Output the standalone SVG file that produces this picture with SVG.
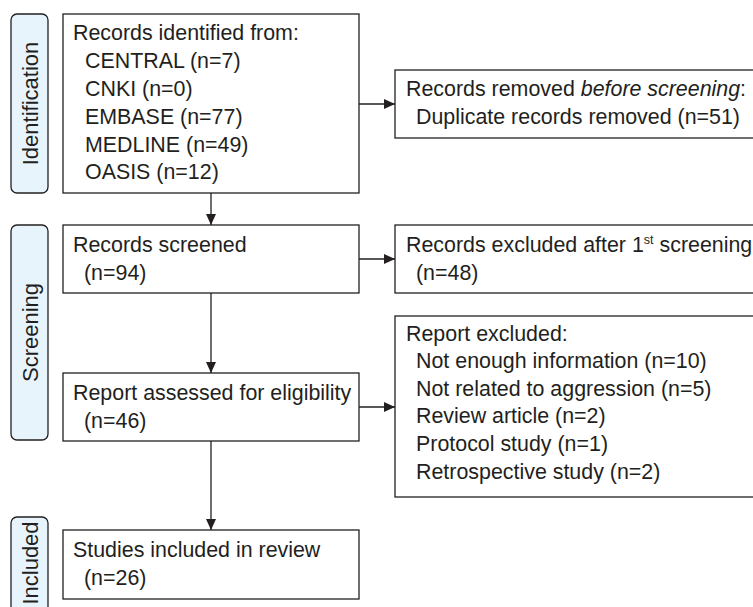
<svg xmlns="http://www.w3.org/2000/svg" width="753" height="607" viewBox="0 0 753 607">
<style>
text{font-family:"Liberation Sans",Arial,sans-serif;font-size:21.4px;fill:#231f20}
.box{fill:#fff;stroke:#231f20;stroke-width:1.3}
.lab{fill:#e8f4fc;stroke:#231f20;stroke-width:1.3}
.lt{font-size:22px;text-anchor:middle}
.con{stroke:#231f20;stroke-width:1.3;fill:none}
.sup{font-size:12.5px}
</style>
<defs>
<marker id="ah" markerWidth="11" markerHeight="10" refX="11" refY="5" orient="auto" markerUnits="userSpaceOnUse">
<path d="M0,0 L11,5 L0,10 Z" fill="#231f20"/>
</marker>
</defs>
<rect width="753" height="607" fill="#fff"/>
<g id="label-identification">
<rect class="lab" x="11" y="14" width="37" height="179" rx="6"/>
<text class="lt" transform="translate(37.5,103.5) rotate(-90)">Identification</text>
</g>
<g id="label-screening">
<rect class="lab" x="11" y="225" width="37" height="215" rx="6"/>
<text class="lt" transform="translate(37.5,332.5) rotate(-90)">Screening</text>
</g>
<g id="label-included">
<rect class="lab" x="11" y="517" width="37" height="110" rx="6"/>
<text class="lt" transform="translate(37.5,563) rotate(-90)">Included</text>
</g>
<g id="connectors">
<line class="con" x1="359" y1="104" x2="395" y2="104" marker-end="url(#ah)"/>
<line class="con" x1="211" y1="193" x2="211" y2="225" marker-end="url(#ah)"/>
<line class="con" x1="359" y1="259" x2="395" y2="259" marker-end="url(#ah)"/>
<line class="con" x1="211" y1="293" x2="211" y2="373" marker-end="url(#ah)"/>
<line class="con" x1="359" y1="407" x2="395" y2="407" marker-end="url(#ah)"/>
<line class="con" x1="211" y1="441" x2="211" y2="530" marker-end="url(#ah)"/>
</g>
<g id="node-identified">
<rect class="box" x="63" y="14" width="296" height="179"/>
<text x="73" y="40">Records identified from:</text>
<text x="85" y="68">CENTRAL (n=7)</text>
<text x="85" y="96">CNKI (n=0)</text>
<text x="85" y="124">EMBASE (n=77)</text>
<text x="85" y="152">MEDLINE (n=49)</text>
<text x="85" y="179">OASIS (n=12)</text>
</g>
<g id="node-removed">
<rect class="box" x="395" y="70" width="370" height="68"/>
<text x="406" y="96">Records removed <tspan font-style="italic">before screening</tspan>:</text>
<text x="416" y="124">Duplicate records removed (n=51)</text>
</g>
<g id="node-screened">
<rect class="box" x="63" y="225" width="296" height="68"/>
<text x="73" y="252">Records screened</text>
<text x="84" y="280">(n=94)</text>
</g>
<g id="node-excluded1">
<rect class="box" x="395" y="225" width="370" height="68"/>
<text x="406" y="252">Records excluded after 1<tspan class="sup" dy="-8">st</tspan><tspan dy="8"> screening</tspan></text>
<text x="416" y="280">(n=48)</text>
</g>
<g id="node-assessed">
<rect class="box" x="63" y="373" width="296" height="68"/>
<text x="73" y="400">Report assessed for eligibility</text>
<text x="84" y="428">(n=46)</text>
</g>
<g id="node-excluded2">
<rect class="box" x="395" y="316" width="370" height="181"/>
<text x="406" y="341">Report excluded:</text>
<text x="416" y="368">Not enough information (n=10)</text>
<text x="416" y="396">Not related to aggression (n=5)</text>
<text x="416" y="423">Review article (n=2)</text>
<text x="416" y="451">Protocol study (n=1)</text>
<text x="416" y="479">Retrospective study (n=2)</text>
</g>
<g id="node-included">
<rect class="box" x="63" y="530" width="296" height="69"/>
<text x="73" y="557">Studies included in review</text>
<text x="84" y="585">(n=26)</text>
</g>
</svg>
